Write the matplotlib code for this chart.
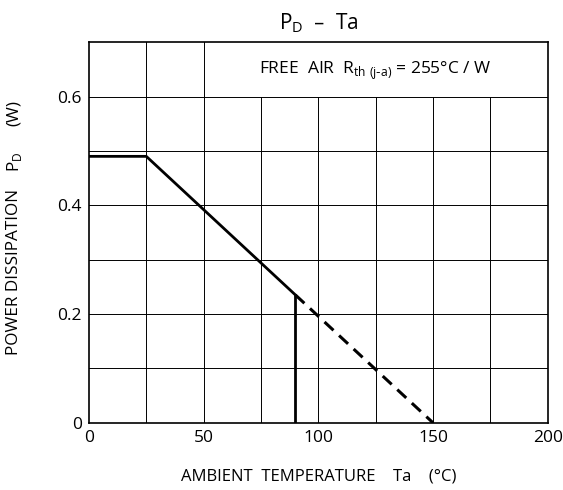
import matplotlib
matplotlib.use('Agg')
import matplotlib.pyplot as plt
import numpy as np

# Derating curve: P_D vs ambient temperature
ta_solid = [0, 25, 90]
pd_solid = [0.49, 0.49, 0.49 * (150 - 90) / 125]
ta_dash = [90, 150]
pd_dash = [0.49 * (150 - 90) / 125, 0.0]
ta_limit = 90

x_ticks = [0, 50, 100, 150, 200]
y_ticks = [0, 0.2, 0.4, 0.6]
y_ticklabels = ['0', '0.2', '0.4', '0.6']

plt.rcParams['font.family'] = ['Open Sans', 'DejaVu Sans']

fig = plt.figure(figsize=(5.63, 4.9), dpi=100)
ax = fig.add_axes([0.158, 0.137, 0.815, 0.777])
ax.set_xlim(0, 200)
ax.set_ylim(0, 0.7)

# grid, leaving the note box (x 50-200, y 0.6-0.7) empty
gkw = dict(color='black', linewidth=0.7, zorder=1)
for x in np.arange(25, 200, 25):
    ax.plot([x, x], [0, 0.7 if x <= 50 else 0.6], **gkw)
for y in np.arange(0.1, 0.65, 0.1):
    ax.plot([0, 200], [y, y], **gkw)

ax.plot(ta_solid, pd_solid, color='black', linewidth=2.0, zorder=3,
        solid_capstyle='butt')
ax.plot(ta_dash, pd_dash, color='black', linewidth=2.2, zorder=3,
        linestyle=(0, (4, 2.5)))
ax.plot([ta_limit, ta_limit], [0, pd_solid[-1]], color='black',
        linewidth=2.0, zorder=3)

ax.text(125, 0.647, r'FREE  AIR  R$_{\mathregular{th\ (j\text{-}a)}}$ = 255°C / W',
        ha='center', va='center', fontsize=12.5)

for s in ax.spines.values():
    s.set_linewidth(1.2)

ax.set_xticks(x_ticks)
ax.set_yticks(y_ticks)
ax.set_yticklabels(y_ticklabels)
ax.tick_params(length=0, labelsize=12.5, pad=5)

ax.set_xlabel('AMBIENT  TEMPERATURE    Ta    (°C)', fontsize=12, labelpad=16)

# y label pieces are widely spaced in the original
ylab = dict(transform=ax.transAxes, rotation=90, ha='center', va='center',
            fontsize=12.3)
ax.text(-0.163, 0.396, 'POWER DISSIPATION', **ylab)
ax.text(-0.163, 0.685, r'P$_{\mathregular{D}}$', **ylab)
ax.text(-0.163, 0.814, '(W)', **ylab)

ax.set_title(r'P$_{\mathregular{D}}$  –  Ta', fontsize=15, pad=9)

fig.savefig('out.png', dpi=100)
